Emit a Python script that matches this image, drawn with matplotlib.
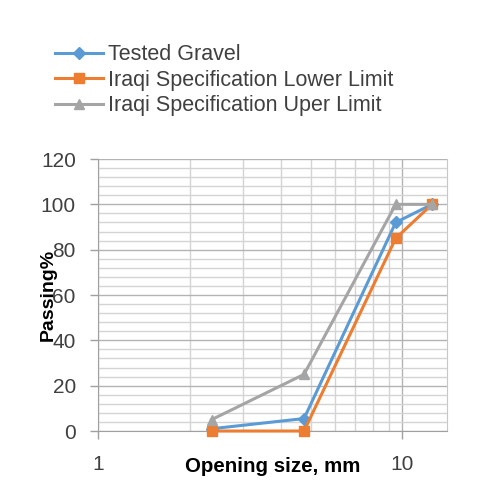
import matplotlib
matplotlib.use('Agg')
import matplotlib.pyplot as plt
import numpy as np

# Sieve openings (mm) and percent passing
sieves = [2.36, 4.75, 9.5, 12.5]
tested = [1, 5.5, 92, 100]
lower = [0, 0, 85, 100]
upper = [5, 25, 100, 100]

names = ['Tested Gravel', 'Iraqi Specification Lower Limit', 'Iraqi Specification Uper Limit']
colors = ['#5B9BD5', '#ED7D31', '#A5A5A5']
markers = ['D', 's', '^']

plt.rcParams['font.family'] = ['Liberation Sans', 'DejaVu Sans']

fig = plt.figure(figsize=(5.02, 4.98), dpi=100)
ax = fig.add_axes([0.1952, 0.1345, 0.6952, 0.5462])

handles = []
for ys, c, m, n in zip([tested, lower, upper], colors, markers, names):
    ms = 6 if m == 'D' else 7.5
    h, = ax.plot(sieves, ys, color=c, marker=m, markersize=ms, lw=2.2, label=n,
                 clip_on=False, zorder=3)
    handles.append(h)

ax.set_xscale('log')
ax.set_xlim(1, 14)
ax.set_ylim(0, 120)
ax.set_yticks(np.arange(0, 121, 20))
ax.set_yticks(np.arange(0, 121, 4), minor=True)
ax.set_xticks([1, 10])
ax.set_xticklabels(['1', '10'])
ax.set_xticks(list(range(2, 10)), minor=True)
ax.xaxis.set_minor_formatter(plt.NullFormatter())

ax.grid(True, which='major', color='#B3B3B3', lw=1.0)
ax.grid(True, which='minor', color='#D4D4D4', lw=1.0)
ax.set_axisbelow(True)

ax.spines['top'].set_visible(False)
ax.spines['right'].set_color('#C8C8C8')
ax.spines['left'].set_color('#A0A0A0')
ax.spines['bottom'].set_color('#A0A0A0')

ax.tick_params(axis='both', which='major', labelsize=15, colors='#A0A0A0',
               labelcolor='#404040', length=6, width=1)
ax.tick_params(axis='x', which='major', pad=11)
ax.tick_params(axis='y', which='major', pad=10)
ax.tick_params(which='minor', length=0)

ax.set_xlabel('Opening size, mm', fontsize=14.8, fontweight='bold', color='#000000')
ax.xaxis.set_label_coords(0.5, -0.095)
# the reference has this label sitting over the tick labels
ax.set_ylabel('Passing%', fontsize=14, fontweight='bold', color='#000000')
ax.yaxis.set_label_coords(-0.118, 0.5)

fig.legend(handles=handles, loc='upper left', bbox_to_anchor=(0.0924, 0.928),
           frameon=False, fontsize=15.5, handlelength=2.23, labelspacing=0.2,
           handletextpad=0.23, borderaxespad=0, labelcolor='#404040')

fig.savefig('out.png', dpi=100)
